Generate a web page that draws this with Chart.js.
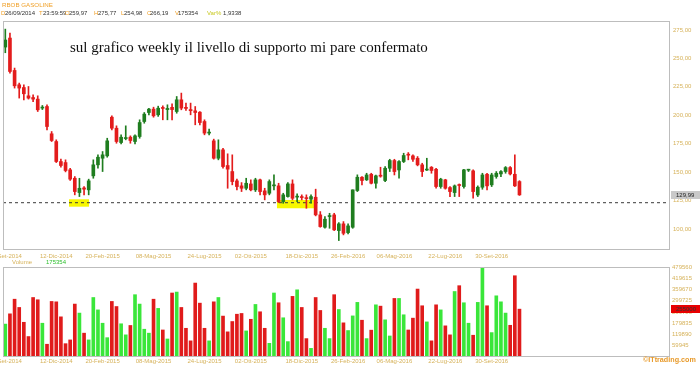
<!DOCTYPE html>
<html><head><meta charset="utf-8">
<script src="https://cdn.jsdelivr.net/npm/chart.js@4.4.1/dist/chart.umd.min.js"></script>
<style>
html,body{margin:0;padding:0;background:#fff;width:700px;height:365px;overflow:hidden;position:relative;font-family:"Liberation Sans",Arial,sans-serif;}
canvas{position:absolute;left:0;}
#c1{top:0;}
#c2{top:265px;}
.t{position:absolute;white-space:nowrap;font-size:6px;line-height:7px;}
.k{color:#f0a028;}
.v{color:#333;}
</style></head><body>
<canvas id="c1" width="700" height="265" style="width:700px;height:265px"></canvas>
<canvas id="c2" width="700" height="100" style="width:700px;height:100px"></canvas>

<div class="t" style="left:2px;top:1px;color:#f0a028;font-size:6.2px">RBOB GASOLINE</div>
<div class="t k" style="left:1px;top:10px">D</div><div class="t v" style="left:5px;top:10px">26/09/2014</div>
<div class="t k" style="left:39px;top:10px">T</div><div class="t v" style="left:43px;top:10px">23:59:59</div>
<div class="t k" style="left:65px;top:10px">O</div><div class="t v" style="left:69px;top:10px">259,97</div>
<div class="t k" style="left:94px;top:10px">H</div><div class="t v" style="left:98px;top:10px">275,77</div>
<div class="t k" style="left:121px;top:10px">L</div><div class="t v" style="left:124px;top:10px">254,98</div>
<div class="t k" style="left:147px;top:10px">C</div><div class="t v" style="left:150px;top:10px">266,19</div>
<div class="t k" style="left:175px;top:10px">V</div><div class="t v" style="left:178px;top:10px">175354</div>
<div class="t" style="left:207px;top:10px;color:#c8c820">Var%</div><div class="t v" style="left:223px;top:10px">1,9338</div>

<div class="t" style="left:70px;top:38px;font-family:'Liberation Serif','Times New Roman',serif;font-size:15px;line-height:18px;color:#111">sul grafico weekly il livello di supporto mi pare confermato</div>

<div class="t" style="left:12px;top:259px;color:#d6b25a">Volume</div>
<div class="t" style="left:46px;top:259px;color:#2fc02f">175354</div>
<div class="t" style="left:643px;top:356px;color:#e89a2a;font-weight:bold;font-size:7.2px;line-height:8px">©ITtrading.com</div>

<script>
// ---- data (weekly bars, 26/09/2014 .. 11/11/2016) ----
const open  = [259.97,267.9,239.4,226.8,224.4,217.1,215.6,214.2,206.3,207.7,183.7,176.9,159.3,158.4,152.0,144.6,132.0,136.1,134.4,146.7,
               156.4,162.2,164.3,198.3,188.6,176.0,179.5,180.7,176.9,181.3,194.5,202.4,205.4,200.4,206.8,205.0,207.0,203.3,213.6,207.0,
               205.0,203.9,202.7,194.5,184.3,177.5,162.2,169.6,155.8,150.5,142.3,137.9,135.8,139.6,134.4,143.2,133.5,131.4,137.9,137.9,
               124.1,128.5,139.6,128.0,128.2,127.3,126.2,127.9,112.4,101.5,110.9,112.4,98.6,104.5,96.8,101.5,133.8,145.5,143.2,148.1,
               140.2,147.1,142.6,153.4,160.2,151.9,159.3,165.5,164.3,162.2,156.4,151.8,154.3,152.5,137.3,143.2,136.4,132.0,138.8,137.3,
               151.7,151.1,129.9,136.7,148.1,138.8,146.1,148.4,150.5,154.0,148.1,141.7];
const high  = [275.77,272.3,241.5,228.3,226.8,225.3,218.0,217.1,208.6,209.2,185.7,178.4,161.4,160.8,153.4,146.1,144.6,137.3,143.8,160.8,
               165.2,168.1,179.8,199.5,190.7,182.8,190.7,181.9,182.8,196.0,202.4,206.2,207.1,208.0,208.3,209.2,210.0,216.5,219.5,210.7,
               210.7,207.7,203.3,196.0,187.8,179.0,178.4,171.0,166.1,165.2,143.8,140.8,144.6,143.2,144.6,143.8,135.8,143.2,147.6,140.2,
               131.4,140.8,143.2,130.8,130.0,130.0,130.0,135.0,115.3,110.9,113.8,113.8,105.6,106.5,104.5,134.4,147.6,146.1,149.0,149.0,
               147.5,154.3,154.9,161.3,161.3,160.2,166.6,167.2,165.2,163.7,157.8,162.2,154.9,153.4,144.6,143.7,137.3,138.7,139.6,152.5,
               152.5,152.0,137.9,149.0,149.0,149.0,150.5,151.4,154.9,154.9,165.2,142.5];
const low   = [254.98,237.0,223.9,215.1,213.6,214.2,212.0,203.3,205.0,187.2,176.9,158.4,154.3,150.2,142.6,130.0,128.5,130.0,130.0,144.6,
               153.4,150.5,163.1,187.2,175.4,174.9,178.4,175.4,174.9,179.8,193.0,200.4,198.3,199.0,196.0,196.0,196.0,201.8,204.8,204.2,
               200.4,191.6,191.6,182.8,182.8,161.4,160.8,153.4,135.8,138.8,134.4,132.9,134.4,133.5,132.9,130.0,125.6,130.0,134.4,123.2,
               122.6,127.9,125.6,124.1,125.6,118.2,122.6,111.5,101.5,100.6,100.6,98.6,89.8,94.8,95.6,100.6,132.9,138.7,142.6,139.6,
               135.8,145.5,141.7,150.5,147.5,144.6,158.4,160.8,159.3,155.5,146.1,151.4,149.0,135.8,135.8,135.0,128.5,128.5,128.5,135.8,
               150.5,127.0,128.5,134.9,134.3,137.3,144.6,146.1,149.0,147.5,137.3,129.5];
const close = [266.19,238.5,225.9,223.9,218.9,215.1,214.2,204.8,207.2,190.1,177.8,159.3,155.8,151.4,143.8,132.9,135.8,135.0,142.3,156.4,
               163.1,165.2,177.5,188.6,176.9,180.7,180.0,177.8,181.9,193.6,201.0,205.4,199.5,206.2,206.0,206.0,205.0,213.6,206.3,206.0,
               204.0,202.4,193.6,184.3,184.8,162.2,169.6,154.9,152.6,141.7,137.3,135.8,140.2,134.4,143.2,132.9,130.0,141.7,138.5,124.1,
               130.0,139.6,127.0,128.5,127.6,126.7,128.5,112.4,102.1,108.6,111.8,99.2,104.5,96.2,102.7,134.4,145.5,142.6,147.5,140.2,
               146.7,146.4,153.4,160.2,150.5,159.3,164.6,164.9,161.3,156.4,150.5,152.0,151.4,137.3,143.8,135.8,132.9,137.9,138.2,152.0,
               152.0,132.9,136.7,147.5,137.9,147.5,149.0,150.5,154.0,148.4,137.9,129.99];
const volume = [175354,230000,308000,264000,185000,109000,317000,305000,180000,68000,296000,294000,214000,71000,91000,282000,234000,127000,91000,317000,
                251000,180000,103000,296000,269000,177000,118000,168000,332000,282000,148000,127000,308000,259000,144000,96000,341000,346000,264000,153000,
                86000,394000,287000,153000,86000,294000,317000,218000,134000,189000,228000,232000,139000,201000,280000,241000,153000,73000,341000,289000,
                209000,82000,323000,358000,264000,98000,46000,317000,248000,153000,98000,332000,253000,182000,141000,219000,291000,196000,98000,143000,
                278000,271000,198000,112000,312000,312000,225000,144000,207000,362000,273000,187000,86000,278000,251000,166000,118000,349000,380000,289000,
                180000,116000,291000,474000,273000,130000,326000,294000,234000,169000,433000,255000];

// tick labels
const dateTickIdx    = [0,11,21,32,43,53,64,74,84,95,105];
const dateTickLabels = ['26-Set-2014','12-Dic-2014','20-Feb-2015','08-Mag-2015','24-Lug-2015','02-Ott-2015','18-Dic-2015','26-Feb-2016','06-Mag-2016','22-Lug-2016','30-Set-2016'];
const priceTicks  = [100,125,150,175,200,225,250,275];
const volumeTicks = [59945,119890,179835,239780,299725,359670,419615,479560];

// annotations (data units)
const supportLevel = 123.1;
const supportZones = [{x0:13.75,x1:18.07,y0:119.6,y1:126.1},{x0:58.65,x1:66.64,y0:118.2,y1:125.5}];
const totalSlots = 144; // weekly slots shown on the axis (incl. empty future space)

// ---- styles ----
const UP='#1f7d1f', DOWN='#e31c1c', VUP='#3ae63a', VDOWN='#e01b1b';
const AXIS='#d6b25a', FONT='"Liberation Sans", Arial, sans-serif';
const isUp = i => close[i] >= open[i];

const wickData = open.map((_,i)=>({x:i, y:[low[i], high[i]]}));
const bodyData = open.map((_,i)=>({x:i, y:[open[i], close[i]]}));
const volData  = volume.map((v,i)=>({x:i, y:v}));

const framePlugin = {
  id:'frame',
  beforeDatasetsDraw(chart, args, opts){
    if(!opts.zones) return;
    const {ctx, scales:{x,y}} = chart;
    ctx.save(); ctx.fillStyle = '#f7f700';
    for(const z of opts.zones){
      const x1=x.getPixelForValue(z.x0), x2=x.getPixelForValue(z.x1);
      const y1=y.getPixelForValue(z.y1), y2=y.getPixelForValue(z.y0);
      ctx.fillRect(x1,y1,x2-x1,y2-y1);
    }
    ctx.restore();
  },
  afterDraw(chart, args, opts){
    const {ctx, chartArea:a} = chart;
    ctx.save();
    ctx.strokeStyle = '#bdbdbd'; ctx.lineWidth = 1;
    ctx.strokeRect(Math.round(a.left)+0.5, Math.round(a.top)+0.5, Math.round(a.right-a.left)-1, Math.round(a.bottom-a.top)-1);
    if(opts.last){
      const yy = chart.scales.y.getPixelForValue(opts.last.value);
      ctx.fillStyle = opts.last.bg; ctx.fillRect(a.right+1, Math.round(yy)-4, 29, 8);
      ctx.fillStyle = opts.last.fg; ctx.font = '6px '+FONT; ctx.textBaseline='middle'; ctx.textAlign='left';
      ctx.fillText(opts.last.text, a.right+6, yy);
    }
    ctx.restore();
  }
};

const xScale = (h, pad) => ({
  type:'linear', min:-0.5, max:totalSlots-0.5, offset:false,
  grid:{display:false, drawTicks:false, offset:false}, border:{display:false},
  afterDataLimits: s => { s.min = -0.5; s.max = totalSlots-0.5; },
  afterBuildTicks: s => { s.ticks = dateTickIdx.map(v=>({value:v})); },
  ticks:{autoSkip:false, maxRotation:0, minRotation:0, padding:pad, color:AXIS, font:{size:6, family:FONT},
         callback:(v,i)=>dateTickLabels[i]},
  afterFit: s => { s.height = h; s.paddingLeft = 0; s.paddingRight = 0; }
});

new Chart(document.getElementById('c1'), {
  type:'bar',
  data:{datasets:[
    {type:'line', data:[{x:-0.5,y:supportLevel},{x:totalSlots-0.5,y:supportLevel}], borderColor:'#3a3a3a', borderWidth:1, borderDash:[3,3], pointRadius:0, order:3},
    {data:wickData, grouped:false, barThickness:1, backgroundColor:c=>isUp(c.dataIndex)?UP:DOWN, borderWidth:0, order:2},
    {data:bodyData, grouped:false, barThickness:3, minBarLength:1, backgroundColor:c=>isUp(c.dataIndex)?UP:DOWN, borderWidth:0, order:1}
  ]},
  options:{
    responsive:false, animation:false,
    layout:{padding:{top:21, left:3, right:0, bottom:0}, autoPadding:false},
    plugins:{legend:{display:false}, tooltip:{enabled:false},
      frame:{zones:supportZones, last:{value:close[close.length-1], text:close[close.length-1].toFixed(2).replace('.',','), bg:'#c9c9c9', fg:'#222'}}},
    scales:{
      x: xScale(15, 3),
      y:{position:'right', min:81.5, max:282.9,
         grid:{display:false, drawTicks:false}, border:{display:false},
         afterBuildTicks: s => { s.ticks = priceTicks.map(v=>({value:v})); },
         ticks:{padding:3, color:AXIS, font:{size:6, family:FONT}, callback:v=>v.toFixed(2).replace('.',',')},
         afterFit: s => { s.width = 30; s.paddingTop = 0; s.paddingBottom = 0; }}
    }
  },
  plugins:[framePlugin]
});

new Chart(document.getElementById('c2'), {
  type:'bar',
  data:{datasets:[
    {data:volData, barThickness:3, backgroundColor:c=>isUp(c.dataIndex)?VUP:VDOWN, borderWidth:0}
  ]},
  options:{
    responsive:false, animation:false,
    layout:{padding:{top:2, left:3, right:0, bottom:0}, autoPadding:false},
    plugins:{legend:{display:false}, tooltip:{enabled:false},
      frame:{last:{value:volume[volume.length-1], text:String(volume[volume.length-1]), bg:'#e80000', fg:'#333'}}},
    scales:{
      x: xScale(8, 1),
      y:{position:'right', min:0, max:479560,
         grid:{display:false, drawTicks:false}, border:{display:false},
         afterBuildTicks: s => { s.ticks = volumeTicks.map(v=>({value:v})); },
         ticks:{padding:2, color:AXIS, font:{size:6, family:FONT}, callback:v=>String(v)},
         afterFit: s => { s.width = 30; s.paddingTop = 0; s.paddingBottom = 0; }}
    }
  },
  plugins:[framePlugin]
});
</script>
</body></html>
